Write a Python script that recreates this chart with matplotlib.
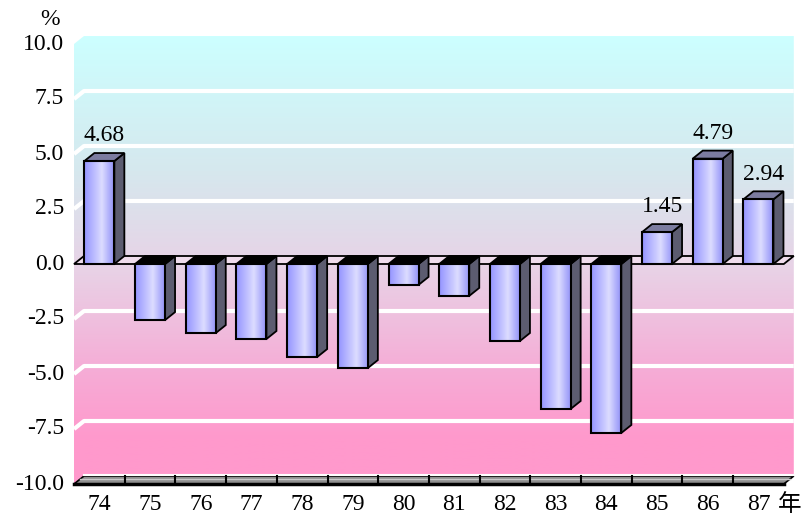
import numpy as np
import matplotlib.pyplot as plt
from matplotlib.patches import Polygon, Rectangle
from matplotlib.colors import LinearSegmentedColormap

plt.rcParams['font.family'] = ['Liberation Serif', 'Noto Sans CJK TC']

years = ['74', '75', '76', '77', '78', '79', '80', '81', '82', '83', '84', '85', '86', '87']
growth = [4.68, -2.55, -3.14, -3.41, -4.23, -4.73, -0.95, -1.45, -3.50, -6.59, -7.68, 1.45, 4.79, 2.94]
labelled = [0, 11, 12, 13]
yticks = [10.0, 7.5, 5.0, 2.5, 0.0, -2.5, -5.0, -7.5, -10.0]

# pixel layout of the pseudo-3d chart
W, H = 805, 523
x0_px, zero_px = 74, 264
cat_px, unit_px = 50.7, 22.0
dx, dy = 10 / cat_px, 8 / unit_px      # depth offset in data units
bw = 30 / cat_px                         # bar width
fs = 17

fig = plt.figure(figsize=(W / 100, H / 100), dpi=100)
ax = fig.add_axes([0, 0, 1, 1])
ax.axis('off')

n = len(years)
left, right = -0.5, n - 0.5
ymin, ymax = yticks[-1], yticks[0]

# back wall with vertical cyan -> pink gradient
wall = Polygon([(left, ymin), (left, ymax), (left + dx, ymax + dy), (right + dx, ymax + dy),
                (right + dx, ymin + dy), (right, ymin)], facecolor='none', edgecolor='none')
ax.add_patch(wall)
wall_cmap = LinearSegmentedColormap.from_list(
    'wall', [(0, '#ccffff'), (0.3, '#d6e8ee'), (0.52, '#e8d2e6'), (0.75, '#f6acd6'), (0.9, '#ff99cc'), (1, '#ff99cc')])
grad = np.linspace(0, 1, 256).reshape(-1, 1)
im = ax.imshow(grad, extent=(left, right + dx, ymin, ymax + dy), cmap=wall_cmap,
               aspect='auto', origin='upper', zorder=0)
im.set_clip_path(wall)

# white gridlines on side and back wall
for t in yticks[1:-1]:
    if t == 0:
        continue
    ax.plot([left, left + dx, right + dx], [t, t + dy, t + dy], color='white', lw=3, zorder=1,
            solid_capstyle='butt')

# floor
floor = Polygon([(left, ymin), (right, ymin), (right + dx, ymin + dy), (left + dx, ymin + dy)],
                facecolor='#8f8f8f', edgecolor='black', lw=1.2, zorder=2)
ax.add_patch(floor)
ax.plot([left + dx * 0.6, right + dx * 0.6], [ymin + dy * 0.6, ymin + dy * 0.6],
        color='#c8c8c8', lw=1, zorder=2)
ax.plot([left + dx, right + dx], [ymin + dy + 0.05, ymin + dy + 0.05], color='white', lw=1.5, zorder=2)
ax.plot([left, right], [ymin, ymin], color='black', lw=2.5, zorder=2)
for k in range(1, n):
    ax.plot([k - 0.5, k - 0.5], [ymin, ymin + dy], color='black', lw=1.5, zorder=2)

# zero plane
zplane = Polygon([(left, 0), (right, 0), (right + dx, dy), (left + dx, dy)],
                 facecolor='#efdcec', edgecolor='black', lw=1.3, zorder=2)
ax.add_patch(zplane)

# bars
bar_cmap = LinearSegmentedColormap.from_list('bar', [(0, '#9494ff'), (0.6, '#dcdcff'), (1, '#9494f8')])
face_grad = np.linspace(0, 1, 64).reshape(1, -1)
for i, v in enumerate(growth):
    x0, x1 = i - bw / 2, i + bw / 2
    lo, hi = min(0, v), max(0, v)
    side = Polygon([(x1, lo), (x1 + dx, lo + dy), (x1 + dx, hi + dy), (x1, hi)],
                   facecolor='#5c5c70', edgecolor='black', lw=1.3, zorder=3)
    top = Polygon([(x0, hi), (x1, hi), (x1 + dx, hi + dy), (x0 + dx, hi + dy)],
                  facecolor='#7c7ca0' if v > 0 else 'black', edgecolor='black', lw=1.3, zorder=3)
    ax.add_patch(side)
    ax.add_patch(top)
    ax.imshow(face_grad, extent=(x0, x1, lo, hi), cmap=bar_cmap, aspect='auto', zorder=4)
    ax.add_patch(Rectangle((x0, lo), bw, hi - lo, facecolor='none', edgecolor='black', lw=1.5, zorder=5))

for i in labelled:
    v = growth[i]
    ax.text(i + dx / 2, v + dy + 0.3, f'{v:.2f}', ha='center', va='bottom', fontsize=fs, zorder=6)

# axis labels
for t in yticks:
    ax.text(left - 10 / cat_px, t, f'{t:.1f}', ha='right', va='center', fontsize=fs)
for i, y in enumerate(years):
    ax.text(i, ymin - 21 / unit_px, y, ha='center', va='center', fontsize=fs)
ax.text(left - 24 / cat_px, ymax + 1.1, '%', ha='center', va='center', fontsize=fs)
ax.text(right + 6 / cat_px, ymin - 21 / unit_px, '年', ha='center', va='center', fontsize=fs)

ax.set_xlim(-x0_px / cat_px - 0.5, (W - x0_px) / cat_px - 0.5)
ax.set_ylim((zero_px - H) / unit_px, zero_px / unit_px)

fig.savefig('out.png', dpi=100)
